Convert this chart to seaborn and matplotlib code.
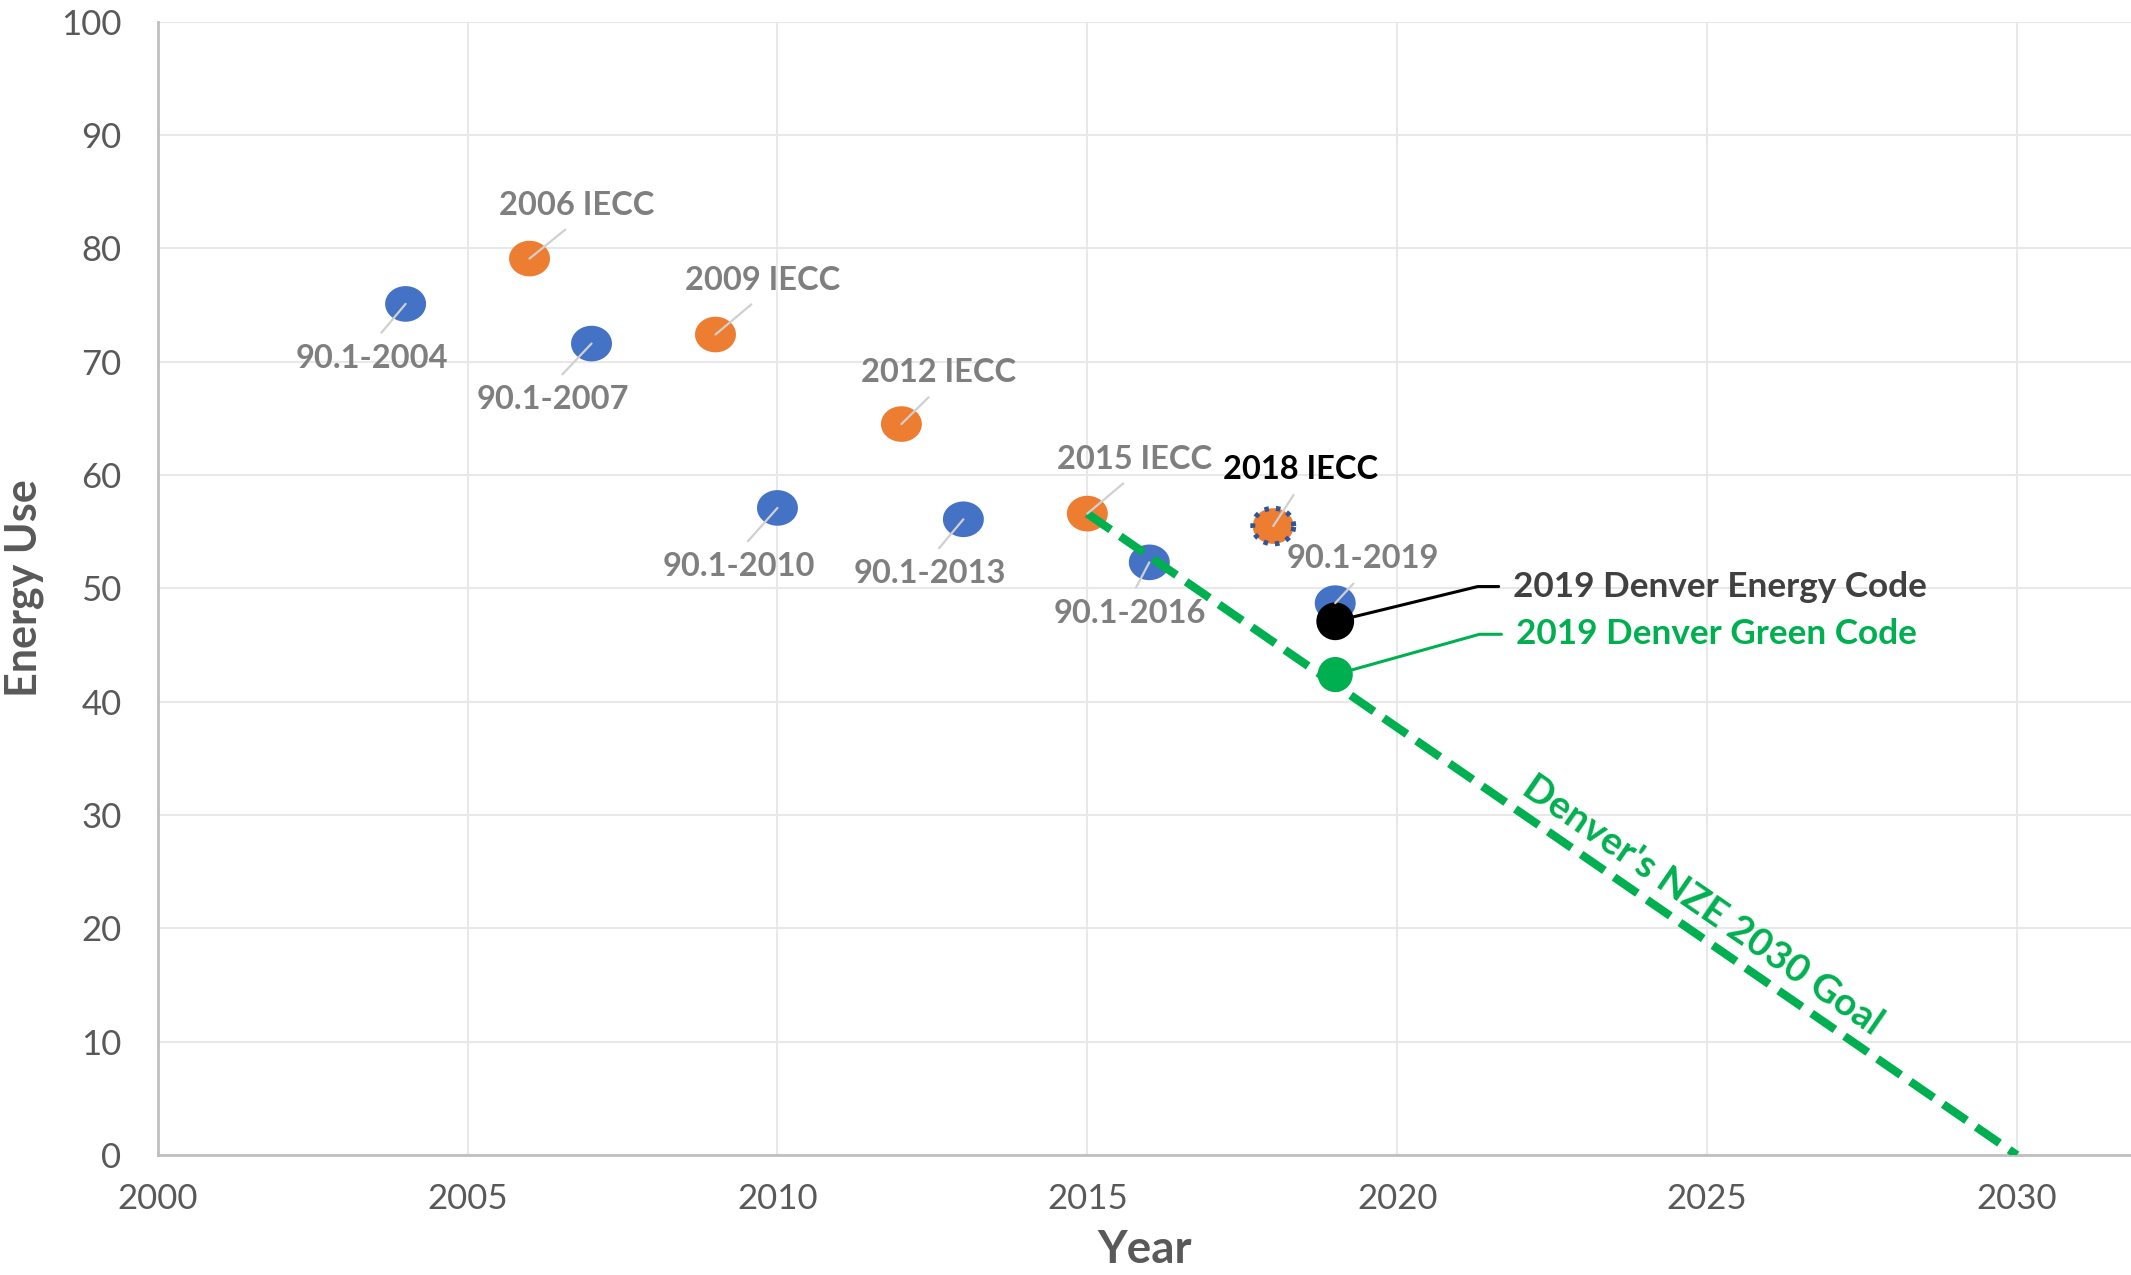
import numpy as np
import pandas as pd
import seaborn as sns
import matplotlib.pyplot as plt
from matplotlib.path import Path

# Data
years = [2004, 2006, 2007, 2009, 2010, 2012, 2013, 2015, 2016, 2018, 2019]
energy = [75.1, 79.1, 71.6, 72.4, 57.1, 64.5, 56.1, 56.6, 52.3, 55.5, 48.7]
labels = ['90.1-2004', '2006 IECC', '90.1-2007', '2009 IECC', '90.1-2010',
          '2012 IECC', '90.1-2013', '2015 IECC', '90.1-2016', '2018 IECC',
          '90.1-2019']
code_type = ['ASHRAE', 'IECC', 'ASHRAE', 'IECC', 'ASHRAE', 'IECC',
             'ASHRAE', 'IECC', 'ASHRAE', 'IECC', 'ASHRAE']

denver_years = [2019, 2019]
denver_energy = [47.1, 42.4]
denver_labels = ['2019 Denver Energy Code', '2019 Denver Green Code']

goal_years = [2015, 2030]
goal_energy = [56.6, 0]
goal_label = "Denver's NZE 2030 Goal"

x_ticks = [2000, 2005, 2010, 2015, 2020, 2025, 2030]
y_ticks = [0, 10, 20, 30, 40, 50, 60, 70, 80, 90, 100]

# label offsets in points (layout only)
label_offsets = [(-24, -39), (34, 38), (-28, -40), (34, 39), (-28, -42),
                 (27, 37), (-24, -39), (34, 39), (-14, -37), (20, 41),
                 (20, 32)]

df = pd.DataFrame({'year': years, 'energy': energy, 'label': labels,
                   'type': code_type})

BLUE = '#4472C4'
ORANGE = '#ED7D31'
GREEN = '#00B050'
GREY_TXT = '#7F7F7F'

sns.set_style('white')
plt.rcParams['font.family'] = ['Lato', 'DejaVu Sans']

fig = plt.figure(figsize=(21.31, 12.75), dpi=100)
ax = fig.add_axes([0.074, 0.094, 0.926, 0.889])

ax.set_xlim(2000, 2031.84)
ax.set_ylim(0, 100)
ax.set_xticks(x_ticks)
ax.set_yticks(y_ticks)
ax.grid(True, color='#E8E8E8', lw=1.5)
ax.set_axisbelow(True)
for s in ['top', 'right']:
    ax.spines[s].set_visible(False)
for s in ['left', 'bottom']:
    ax.spines[s].set_color('#BFBFBF')
    ax.spines[s].set_linewidth(2)
ax.tick_params(axis='both', length=0, labelsize=25, labelcolor='#595959')
ax.tick_params(axis='y', pad=26)
ax.tick_params(axis='x', pad=20)

# slightly flattened marker, like the original
t = np.linspace(0, 2 * np.pi, 60)
ellipse = Path(np.column_stack([np.cos(t), 0.87 * np.sin(t)]), closed=True)

# goal line
sns.lineplot(x=goal_years, y=goal_energy, ax=ax, color=GREEN, lw=6,
             linestyle=(0, (3.4, 1.4)), zorder=4)

normal = df[df['label'] != '2018 IECC']
sns.scatterplot(data=normal, x='year', y='energy', hue='type',
                palette={'ASHRAE': BLUE, 'IECC': ORANGE}, marker=ellipse,
                s=870, linewidth=0, legend=False, ax=ax, zorder=3)
special = df[df['label'] == '2018 IECC']
ax.scatter(special['year'], special['energy'], marker=ellipse, s=870,
           facecolor=ORANGE, edgecolor='#2F5597', linewidth=3.6,
           linestyle=(0, (0.9, 1.4)), zorder=3)

sns.scatterplot(x=denver_years, y=denver_energy, hue=denver_labels,
                palette=['black', GREEN], size=denver_labels,
                sizes=[740, 640], linewidth=0, legend=False, ax=ax, zorder=5)

ax.set_xlabel('Year', fontsize=33, fontweight='bold', color='#595959',
              labelpad=10)
ax.set_ylabel('Energy Use', fontsize=31, fontweight='bold', color='#595959',
              labelpad=12)

# point labels with leader lines
for x, y, lab, (dx, dy) in zip(years, energy, labels, label_offsets):
    col = 'black' if lab == '2018 IECC' else GREY_TXT
    rel = (0.5, 0) if dy > 0 else (0.5, 1)
    ax.annotate(lab, xy=(x, y), xytext=(dx, dy), textcoords='offset points',
                ha='center', va='center', fontsize=23.5, fontweight='bold',
                color=col, zorder=6,
                arrowprops=dict(arrowstyle='-', color='#D0D0D0', lw=1.6,
                                relpos=rel, shrinkA=7, shrinkB=0))

# Denver code callouts
for x, y, lab, col, off, ang in zip(denver_years, denver_energy,
                                    denver_labels, ['#404040', GREEN],
                                    [(128, 25), (130, 29)], [13.7, 15.6]):
    ax.annotate(lab, xy=(x, y), xytext=off, textcoords='offset points',
                ha='left', va='center', fontsize=25.3, fontweight='bold',
                color=col, zorder=6,
                arrowprops=dict(arrowstyle='-', color='black' if col != GREEN else GREEN,
                                lw=2.2, relpos=(0, 0.5), shrinkA=8, shrinkB=0,
                                connectionstyle=f'angle,angleA=0,angleB={ang},rad=0'))

# goal text along the line
p1 = ax.transData.transform((goal_years[0], goal_energy[0]))
p2 = ax.transData.transform((goal_years[1], goal_energy[1]))
angle = np.degrees(np.arctan2(p2[1] - p1[1], p2[0] - p1[0]))
gx = 2025
gy = np.interp(gx, goal_years, goal_energy)
ax.annotate(goal_label, xy=(gx, gy), xytext=(-3, 26), textcoords='offset points',
            ha='center', va='center', rotation=angle, rotation_mode='anchor',
            fontsize=28, fontweight='bold', color=GREEN)

plt.savefig('out.png', dpi=100)
